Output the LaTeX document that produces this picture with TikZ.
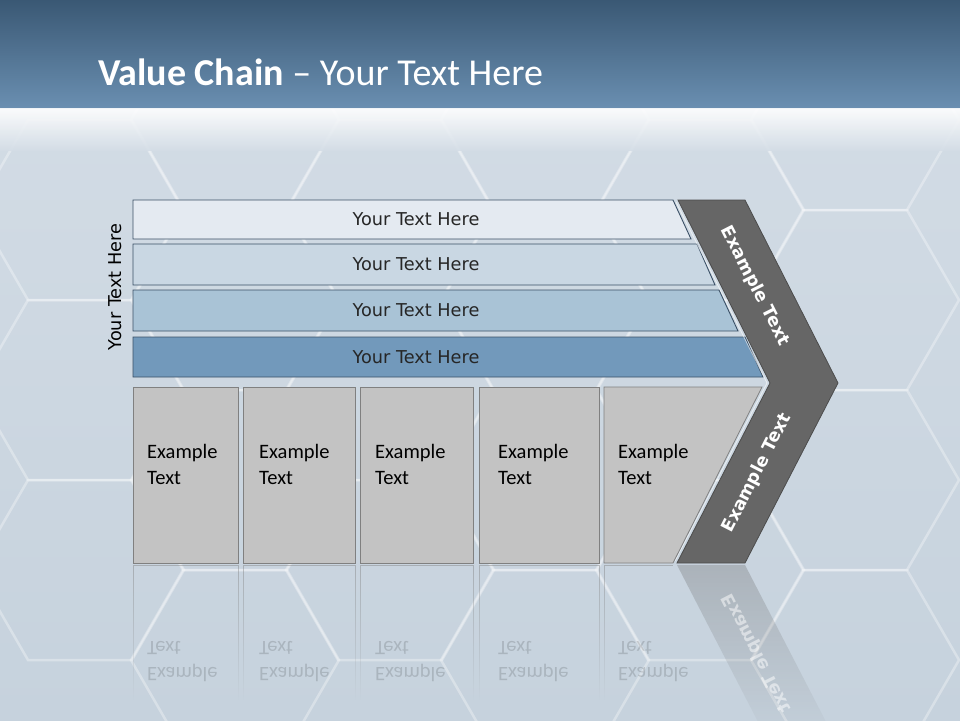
\documentclass[tikz,border=0pt]{standalone}
\usepackage{fontspec}
\setmainfont{Carlito}
\newfontfamily\barfont{DejaVu Sans}
\usetikzlibrary{positioning, fadings}

\definecolor{bgtop}{HTML}{D4DDE6}
\definecolor{bgbot}{HTML}{C6D2DD}
\definecolor{titletop}{HTML}{3A5874}
\definecolor{titlebot}{HTML}{6A8FB1}
\definecolor{barA}{HTML}{E4EAF1}
\definecolor{barB}{HTML}{C9D7E3}
\definecolor{barC}{HTML}{A9C3D6}
\definecolor{barD}{HTML}{7299BB}
\definecolor{barline}{HTML}{3B5066}
\definecolor{chevfill}{HTML}{666666}
\definecolor{cellfill}{HTML}{C3C3C3}
\definecolor{cellline}{HTML}{808080}

\begin{document}
\begin{tikzpicture}[x=1pt, y=-1pt,
    hexline/.style={draw=white, line width=2.5pt, opacity=0.32},
    barbox/.style={draw=barline, line width=0.9pt},
    bartext/.style={font=\barfont\fontsize{17.7}{21}\selectfont, text=black!85, inner sep=0pt},
    chevbox/.style={draw=black!70, fill=chevfill, line width=0.8pt},
    chevtext/.style={font=\barfont\bfseries\fontsize{17.5}{20}\selectfont, text=white, inner sep=0pt},
    cellbox/.style={draw=cellline, fill=cellfill, line width=0.8pt},
    celltext/.style={font=\fontsize{20.5}{26}\selectfont, align=left, inner sep=0pt, anchor=north west},
    mirrortext/.style={celltext, yscale=-1, text=black, opacity=0.14},
    ghostline/.style={draw=cellline, line width=0.6pt, path fading=south, opacity=0.45}
  ]
    \useasboundingbox (0,0) rectangle (960,720);
    % background
    \shade[top color=bgtop, bottom color=bgbot] (0,0) rectangle (960,720);
    \begin{scope}
      \clip (0,108) rectangle (960,720);
      \foreach \cx/\cy in {80/210, 80/390, 80/570, 235/120, 235/300, 235/480, 235/660,
          390/210, 390/390, 390/570, 545/120, 545/300, 545/480, 545/660,
          700/210, 700/390, 700/570, 855/120, 855/300, 855/480, 855/660}
        \draw[hexline] (\cx-104,\cy) -- (\cx-52,\cy-90) -- (\cx+52,\cy-90)
          -- (\cx+104,\cy) -- (\cx+52,\cy+90) -- (\cx-52,\cy+90) -- cycle;
    \end{scope}

    % title band
    \shade[top color=titletop, bottom color=titlebot] (0,0) rectangle (960,108);
    \shade[top color=white, bottom color=bgtop, opacity=0.9] (0,108) rectangle (960,150);
    \node[anchor=base west, inner sep=0pt, text=white, font=\fontsize{38}{42}\selectfont]
      (title) at (98,85) {\textbf{Value Chain} -- Your Text Here};

    % stacked bars
    \foreach \i/\t/\b/\rt/\rb/\col in {1/200/239/673/691/barA, 2/244/285/697/715/barB,
        3/290/331/719/738/barC, 4/337/377/745/763/barD} {
      \draw[barbox, fill=\col] (133,\t) -- (\rt,\t) -- (\rb,\b) -- (133,\b) -- cycle;
      \node[bartext] (bar\i) at (416,{(\t+\b)/2}) {Your Text Here};
    }
    \node[bartext, rotate=90, text=black] (side) at (115,287) {Your Text Here};

    % chevron
    \draw[chevbox] (678,200) -- (745,200) -- (838,383) -- (745,563) -- (677,563)
      -- (770,383) -- cycle;
    \draw[white, opacity=0.6, line width=0.8pt] (676,202) -- (767,383) -- (675,561);
    \node[chevtext, rotate=-63] (chevtop) at (755,286) {Example Text};
    \node[chevtext, rotate=63] (chevbot) at (757,473) {Example Text};

    % cells
    \foreach \i/\l/\r/\tx in {1/133/238/147, 2/243/355/259, 3/360/473/375, 4/479/599/498} {
      \draw[cellbox] (\l,387) rectangle (\r,563);
      \node[celltext] (cell\i) at (\tx,444) {Example\\Text};
      \draw[ghostline] (\l,565) rectangle (\r,700);
      \node[mirrortext] (ghost\i) at (\tx,682) {Example\\Text};
    }
    \draw[cellbox] (604,387) -- (762,387) -- (673,563) -- (604,563) -- cycle;
    \node[celltext] (cell5) at (618,444) {Example\\Text};
    \draw[ghostline] (604,700) -- (604,565) -- (673,565);
    \node[mirrortext] (ghost5) at (618,682) {Example\\Text};

    % reflection of the lower chevron arm
    \fill[chevfill, opacity=0.3, path fading=south] (677,565) -- (745,565) -- (838,745)
      -- (770,745) -- cycle;
    \node[chevtext, yscale=-1, rotate=63, opacity=0.5] (chevghost) at (757,653) {Example Text};
  \end{tikzpicture}
\end{document}
